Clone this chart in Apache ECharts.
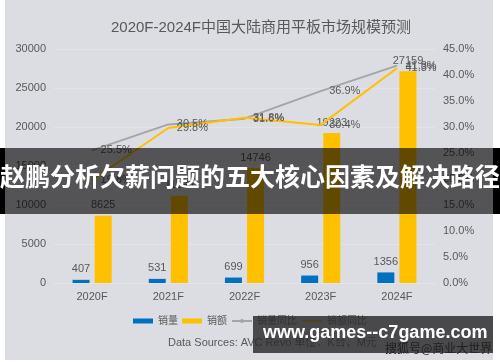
<!DOCTYPE html>
<html><head><meta charset="utf-8">
<script src="https://cdn.jsdelivr.net/npm/echarts@6/dist/echarts.min.js"></script>
<style>html,body{margin:0;padding:0;background:#fff}#c{width:500px;height:362px}</style>
</head><body><div id="c"></div>
<script>
const categories = ['2020F','2021F','2022F','2023F','2024F'];
const salesVolume = [407, 531, 699, 956, 1356];
const salesValue = [8625, 11196, 14746, 19223, 27159];
const volumeYoY = [0.255, 0.305, 0.316, 0.369, 0.418];
const valueYoY = [0.198, 0.298, 0.318, 0.304, 0.413];
const leftTicks = {min: 0, max: 30000, interval: 5000};
const rightTicks = {min: 0, max: 0.45, interval: 0.05};

const chart = echarts.init(document.getElementById('c'), null, {renderer: 'canvas'});
const txt = '#595959';
const font = 'Arial, "Liberation Sans", "Noto Sans CJK SC", sans-serif';
const pct = v => (v * 100).toFixed(1) + '%';
chart.setOption({
  animation: false,
  backgroundColor: '#ffffff',
  textStyle: {fontFamily: font},
  graphic: [
    {type: 'rect', z: -10, shape: {x: 5, y: 0, width: 488, height: 360}, style: {fill: '#dcdde2'}},
    {type: 'text', left: 168, top: 337, z: 5, style: {text: 'Data Sources: AVC Revo 单位：K台，M元', fill: txt, font: '11px ' + font}},
    {type: 'rect', z: 100, shape: {x: 0, y: 148, width: 500, height: 66}, style: {fill: 'rgba(0,0,0,0.62)'}},
    {type: 'rect', z: 100, shape: {x: 0, y: 148, width: 5, height: 66}, style: {fill: '#000'}},
    {type: 'rect', z: 100, shape: {x: 493, y: 148, width: 7, height: 66}, style: {fill: '#000'}},
    {type: 'text', z: 101, left: 'center', top: 164, style: {text: '赵鹏分析欠薪问题的五大核心因素及解决路径', fill: '#ffffff', font: 'bold 25px "Noto Sans CJK SC", sans-serif'}},
    {type: 'rect', z: 100, shape: {x: 253, y: 316, width: 240, height: 37}, style: {fill: 'rgba(40,40,42,0.82)'}},
    {type: 'text', z: 101, left: 263, top: 324, style: {text: 'www.games--c7game.com', fill: '#ffffff', font: 'bold 18px "Liberation Sans", Arial, sans-serif'}},
    {type: 'text', z: 101, left: 385, top: 342, style: {text: '搜狐号@商业大世界', fill: '#1e1e1e', font: '12px "Noto Sans CJK SC", sans-serif'}}
  ],
  title: {
    text: '2020F-2024F中国大陆商用平板市场规模预测',
    left: 256, top: 15, textAlign: 'center',
    textStyle: {color: txt, fontSize: 15, fontWeight: 'normal', fontFamily: font}
  },
  legend: {
    bottom: 31, left: 'center', itemGap: 4, itemWidth: 20, itemHeight: 5,
    textStyle: {color: txt, fontSize: 10},
    data: [
      {name: '销量', icon: 'rect'}, {name: '销额', icon: 'rect'},
      {name: '销量同比'}, {name: '销额同比'}
    ]
  },
  grid: {left: 54, right: 65, top: 49, bottom: 79},
  xAxis: {
    type: 'category', data: categories,
    axisLine: {show: true, lineStyle: {color: '#e4e4e8'}}, axisTick: {show: false},
    axisLabel: {color: txt, fontSize: 11, margin: 8}
  },
  yAxis: [
    {type: 'value', ...leftTicks, position: 'left',
     axisLine: {show: false}, axisTick: {show: false},
     splitLine: {lineStyle: {color: '#e4e4e8'}},
     axisLabel: {color: txt, fontSize: 11, formatter: v => String(v)}},
    {type: 'value', ...rightTicks, position: 'right',
     axisLine: {show: false}, axisTick: {show: false}, splitLine: {show: false},
     axisLabel: {color: txt, fontSize: 11, formatter: v => pct(v)}}
  ],
  series: [
    {name: '销量', type: 'bar', data: salesVolume, barWidth: 17, barGap: '30%',
     itemStyle: {color: '#0070C0'},
     label: {show: true, position: 'top', color: txt, fontSize: 11}},
    {name: '销额', type: 'bar', data: salesValue, barWidth: 17,
     itemStyle: {color: '#FFC000'},
     label: {show: true, position: 'top', color: txt, fontSize: 11}},
    {name: '销量同比', type: 'line', yAxisIndex: 1, data: volumeYoY, symbol: 'circle', symbolSize: 1, showSymbol: true, z: 3,
     lineStyle: {color: '#A5A5A5', width: 2}, itemStyle: {color: '#A5A5A5'},
     label: {show: true, position: 'right', distance: 8, color: txt, fontSize: 11, formatter: p => pct(p.value)}},
    {name: '销额同比', type: 'line', yAxisIndex: 1, data: valueYoY, symbol: 'circle', symbolSize: 1, showSymbol: true, z: 4,
     lineStyle: {color: '#FFC000', width: 2}, itemStyle: {color: '#FFC000'},
     label: {show: true, position: 'right', distance: 8, color: txt, fontSize: 11, formatter: p => pct(p.value)}}
  ]
});
</script></body></html>
